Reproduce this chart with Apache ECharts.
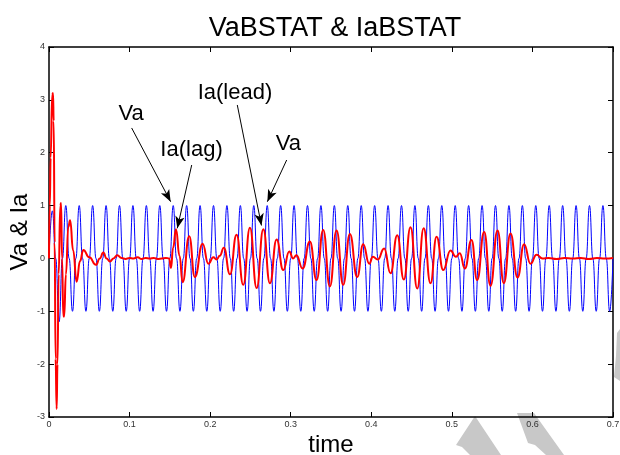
<!DOCTYPE html>
<html><head><meta charset="utf-8">
<script src="https://cdn.jsdelivr.net/npm/echarts@6/dist/echarts.min.js"></script>
<style>html,body{margin:0;padding:0;background:#fff}#c{width:620px;height:455px}</style>
</head><body><div id="c"></div>
<script>
const titleText = 'VaBSTAT & IaBSTAT';
const xName = 'time';
const yName = 'Va & Ia';
const xMin = 0, xMax = 0.7, xStep = 0.1;
const yMin = -3, yMax = 4, yStep = 1;

// Va (blue): samples every quarter period of 60 Hz (1/240 s)
const vaStep = 1 / 240;
const vaValues = [
  0,0.9,0,-1.2, 0,1,0,-1, 0,1,0,-1, 0,1,0,-1,
  0,1,0,-1, 0,1,0,-1, 0,1,0,-1, 0,1,0,-1,
  0,1,0,-1, 0,1,0,-1, 0,1,0,-1, 0,1,0,-1,
  0,1,0,-1, 0,1,0,-1, 0,1,0,-1, 0,1,0,-1,
  0,1,0,-1, 0,1,0,-1, 0,1,0,-1, 0,1,0,-1,
  0,1,0,-1, 0,1,0,-1, 0,1,0,-1, 0,1,0,-1,
  0,1,0,-1, 0,1,0,-1, 0,1,0,-1, 0,1,0,-1,
  0,1,0,-1, 0,1,0,-1, 0,1,0,-1, 0,1,0,-1,
  0,1,0,-1, 0,1,0,-1, 0,1,0,-1, 0,1,0,-1,
  0,1,0,-1, 0,1,0,-1, 0,1,0,-1, 0,1,0,-1,
  0,1,0,-1, 0,1,0,-1,
  0
];

// Ia (red): times and values
const iaTimes = [
  0.0000,0.0010,0.0020,0.0040,0.0050,0.0058,0.0070,0.0082,0.0095,0.0105,
  0.0120,0.0140,0.0150,0.0162,0.0178,0.0188,0.0210,0.0240,0.0262,0.0300,
  0.0343,0.0385,0.0426,0.0500,0.0583,0.0630,0.0674,0.0715,0.0757,0.0800,
  0.0848,0.0900,0.0950,0.1000,0.1050,0.1100,0.1150,0.1200,0.1250,0.1300,
  0.1350,0.1400,0.1450,0.1490,0.1514,0.1540,0.1576,0.1620,0.1658,0.1740,
  0.1810,0.1907,0.1977,0.2040,0.2080,0.2120,0.2170,0.2246,0.2328,0.2411,
  0.2494,0.2577,0.2660,0.2742,0.2825,0.2907,0.2982,0.3030,0.3070,0.3148,
  0.3238,0.3321,0.3403,0.3486,0.3569,0.3651,0.3734,0.3825,0.3900,0.3974,
  0.4020,0.4080,0.4160,0.4239,0.4322,0.4404,0.4487,0.4570,0.4650,0.4735,
  0.4810,0.4893,0.4983,0.5050,0.5099,0.5161,0.5244,0.5314,0.5401,0.5480,
  0.5567,0.5645,0.5728,0.5815,0.5897,0.5976,0.6051,0.6125,0.6200,0.6300,
  0.6400,0.6500,0.6600,0.6700,0.6800,0.6900,0.7000
];
const iaValues = [
  0,1.0,1.9,3.1,3.13,2.6,0.3,-1.9,-2.85,-2.0,
  -0.3,1.0,1.05,0.0,-1.1,-1.1,-0.3,0.6,0.72,0.15,
  -0.44,-0.05,0.16,0.02,-0.12,0.0,0.11,0.0,-0.06,0.0,
  0.06,0.01,-0.01,0.01,0.0,0.02,-0.01,0.01,0.0,0.01,
  -0.01,0.0,0.01,0.0,-0.18,0.2,0.55,0.05,-0.45,0.42,
  -0.35,0.28,-0.1,0.02,-0.02,0.05,0.2,-0.3,0.45,-0.5,
  0.58,-0.56,0.55,-0.47,0.36,-0.22,0.13,0.0,0.06,-0.19,
  0.32,-0.41,0.54,-0.53,0.53,-0.5,0.46,-0.35,0.27,-0.1,
  0.03,-0.02,0.19,-0.28,0.44,-0.4,0.59,-0.57,0.57,-0.47,
  0.41,-0.22,0.15,0.03,0.1,-0.19,0.35,-0.41,0.5,-0.52,
  0.53,-0.47,0.47,-0.36,0.27,-0.1,0.07,0.0,0.01,-0.01,
  0.01,0.0,0.01,-0.01,0.01,0.0,0.01
];

// annotations (data coordinates)
const annotTexts = ['Va', 'Ia(lag)', 'Ia(lead)', 'Va'];
const annotTextAt = [[0.102, 2.74], [0.1769, 2.05], [0.2308, 3.14], [0.2972, 2.165]];
const arrowFrom = [[0.1026, 2.468], [0.1771, 1.767], [0.2337, 2.903], [0.295, 1.862]];
const arrowTo = [[0.151, 1.073], [0.1592, 0.570], [0.2637, 0.623], [0.271, 1.073]];

const FONT = '"Liberation Sans", Arial, Helvetica, sans-serif';
const vaData = vaValues.map((v, i) => [i * vaStep, v]);
const iaData = iaTimes.map((t, i) => [t, iaValues[i]]);

const chart = echarts.init(document.getElementById('c'), null, {renderer: 'canvas'});
const axisLineStyle = {color: '#000', width: 1.5};
const baseX = {type: 'value', min: xMin, max: xMax, interval: xStep, splitLine: {show: false}};
const baseY = {type: 'value', min: yMin, max: yMax, interval: yStep, splitLine: {show: false}};
chart.setOption({
  animation: false,
  backgroundColor: '#fff',
  textStyle: {fontFamily: FONT},
  title: {
    text: titleText, left: 330, top: 10, textAlign: 'center',
    textStyle: {fontFamily: FONT, fontSize: 27, fontWeight: 'normal', color: '#000'}
  },
  // faint grey watermark fragments in the lower-right corner of the source image
  graphic: [
    {type: 'polygon', z: -10, silent: true,
      shape: {points: [[475, 416], [456, 445], [462, 447], [470, 455], [501, 455]]},
      style: {fill: '#c8c8c8'}},
    {type: 'polygon', z: -10, silent: true,
      shape: {points: [[517, 413], [534, 413], [564, 455], [546, 455], [535, 445], [528, 443]]},
      style: {fill: '#c8c8c8'}},
    {type: 'polygon', z: -10, silent: true,
      shape: {points: [[617, 333], [620, 329], [620, 381], [614, 377], [616, 356]]},
      style: {fill: '#c8c8c8'}}
  ],
  grid: {left: 49, right: 7, top: 47, bottom: 38, containLabel: false, outerBoundsMode: 'none'},
  xAxis: [
    Object.assign({}, baseX, {
      position: 'bottom', name: xName, nameLocation: 'middle', nameGap: 16, nameMoveOverlap: false,
      nameTextStyle: {fontFamily: FONT, fontSize: 24, color: '#000'},
      axisLine: {show: true, onZero: false, lineStyle: axisLineStyle},
      axisTick: {show: true, inside: true, length: 5, lineStyle: {color: '#000'}},
      axisLabel: {show: true, fontSize: 9, color: '#333', margin: 3, fontFamily: FONT,
        formatter: v => (Math.round(v * 10) / 10).toString()}
    }),
    Object.assign({}, baseX, {
      position: 'top',
      axisLine: {show: true, onZero: false, lineStyle: axisLineStyle},
      axisTick: {show: true, inside: true, length: 5, lineStyle: {color: '#000'}},
      axisLabel: {show: false}
    })
  ],
  yAxis: [
    Object.assign({}, baseY, {
      position: 'left', name: yName, nameLocation: 'middle', nameGap: 17, nameMoveOverlap: false,
      nameTextStyle: {fontFamily: FONT, fontSize: 24, color: '#000'},
      axisLine: {show: true, onZero: false, lineStyle: axisLineStyle},
      axisTick: {show: true, inside: true, length: 5, lineStyle: {color: '#000'}},
      axisLabel: {show: true, fontSize: 9, color: '#333', margin: 4, fontFamily: FONT}
    }),
    Object.assign({}, baseY, {
      position: 'right',
      axisLine: {show: true, onZero: false, lineStyle: axisLineStyle},
      axisTick: {show: true, inside: true, length: 5, lineStyle: {color: '#000'}},
      axisLabel: {show: false}
    })
  ],
  series: [
    {
      name: 'Va', type: 'line', data: vaData, showSymbol: false, symbol: 'none',
      smooth: 0.5, smoothMonotone: 'x',
      lineStyle: {color: '#0000ff', width: 1}, z: 2
    },
    {
      name: 'Ia', type: 'line', data: iaData, showSymbol: false, symbol: 'none',
      smooth: 0.5, smoothMonotone: 'x',
      lineStyle: {color: '#ff0000', width: 2}, z: 3
    },
    {
      name: 'annot', type: 'line', data: [], z: 5, silent: true,
      markLine: {
        silent: true, animation: false,
        symbol: ['none', 'arrow'],
        lineStyle: {color: '#000', width: 1, type: 'solid'},
        label: {show: false},
        data: arrowFrom.map((f, i) => [
          {coord: f, symbol: 'none'},
          {coord: arrowTo[i], symbol: 'arrow', symbolSize: [7, 12]}
        ])
      },
      markPoint: {
        silent: true, animation: false,
        symbol: 'circle', symbolSize: 1,
        itemStyle: {color: 'rgba(0,0,0,0)'},
        label: {show: true, position: 'inside', color: '#000', fontSize: 22, fontFamily: FONT},
        data: annotTextAt.map((c, i) => ({coord: c, value: annotTexts[i],
          label: {formatter: annotTexts[i]}}))
      }
    }
  ]
});
</script>
</body></html>
